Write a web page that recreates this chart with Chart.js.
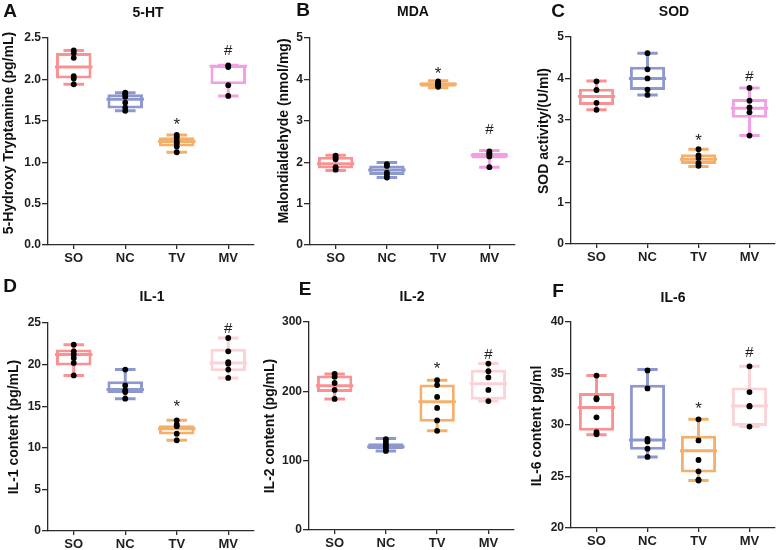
<!DOCTYPE html>
<html>
<head>
<meta charset="utf-8">
<script src="https://cdn.jsdelivr.net/npm/chart.js@4.4.0/dist/chart.umd.min.js"></script>
<style>
  body { margin: 0; background: #fff; }
  #wrap { position: relative; width: 779px; height: 550px; overflow: hidden; }
  canvas { position: absolute; }
</style>
</head>
<body>
<div id="wrap">
  <canvas id="cA" width="260" height="275" style="left:0px;top:0px"></canvas>
  <canvas id="cB" width="260" height="275" style="left:260px;top:0px"></canvas>
  <canvas id="cC" width="259" height="275" style="left:520px;top:0px"></canvas>
  <canvas id="cD" width="260" height="275" style="left:0px;top:275px"></canvas>
  <canvas id="cE" width="260" height="275" style="left:260px;top:275px"></canvas>
  <canvas id="cF" width="259" height="275" style="left:520px;top:275px"></canvas>
</div>
<script>
const groups = ['SO', 'NC', 'TV', 'MV'];

// A: 5-HT (pg/mL)
const htLow  = [1.94, 1.62, 1.12, 1.80];
const htQ1   = [2.01, 1.65, 1.19, 1.94];
const htMed  = [2.15, 1.76, 1.25, 2.16];
const htQ3   = [2.32, 1.82, 1.30, 2.17];
const htHigh = [2.35, 1.84, 1.33, 2.17];
const htDots = [[2.35, 2.32, 2.26, 2.04, 2.01, 1.94], [1.84, 1.82, 1.79, 1.72, 1.66, 1.62],
                [1.33, 1.30, 1.26, 1.23, 1.19, 1.12], [2.17, 2.15, 1.93, 1.80]];
const htMarks = [1.50, 2.36];   // '*' over TV, '#' over MV

// B: MDA (nmol/mg)
const mdaLow  = [1.80, 1.63, 3.80, 1.88];
const mdaQ1   = [1.85, 1.69, 3.82, 2.09];
const mdaMed  = [1.96, 1.81, 3.88, 2.17];
const mdaQ3   = [2.13, 1.92, 3.93, 2.23];
const mdaHigh = [2.17, 1.99, 3.97, 2.28];
const mdaDots = [[2.16, 2.12, 2.07, 1.88, 1.82], [1.95, 1.91, 1.75, 1.69, 1.63],
                 [3.95, 3.91, 3.88, 3.85, 3.82], [2.26, 2.22, 2.18, 2.14, 1.88]];
const mdaMarks = [4.25, 2.82];

// C: SOD (U/ml)
const sodLow  = [3.24, 3.60, 1.87, 2.62];
const sodQ1   = [3.36, 3.72, 1.93, 3.05];
const sodMed  = [3.56, 4.00, 2.05, 3.28];
const sodQ3   = [3.75, 4.28, 2.17, 3.50];
const sodHigh = [3.94, 4.61, 2.29, 3.77];
const sodDots = [[3.93, 3.72, 3.41, 3.24], [4.61, 4.22, 4.00, 3.73, 3.60],
                 [2.29, 2.14, 2.08, 1.95, 1.89], [3.77, 3.46, 3.30, 3.18, 2.62]];
const sodMarks = [2.59, 4.06];

// D: IL-1 (pg/mL)
const il1Low  = [18.7, 15.9, 10.9, 18.4];
const il1Q1   = [19.9, 16.6, 11.6, 19.2];
const il1Med  = [21.2, 17.0, 12.3, 20.2];
const il1Q3   = [21.8, 18.0, 12.7, 21.9];
const il1High = [22.4, 19.4, 13.3, 23.2];
const il1Dots = [[22.4, 21.6, 21.2, 20.8, 20.2, 18.7], [19.4, 17.5, 16.9, 16.7, 15.9],
                 [13.3, 12.8, 12.6, 11.7, 10.9], [23.2, 21.6, 20.3, 20.1, 19.4, 18.4]];
const il1Marks = [15.4, 24.5];

// E: IL-2 (pg/mL)
const il2Low  = [189, 114, 143, 186];
const il2Q1   = [199, 117, 156, 188];
const il2Med  = [208, 120, 185, 211];
const il2Q3   = [223, 125, 210, 231];
const il2High = [225, 132, 216, 240];
const il2Dots = [[225, 221, 212, 202, 189], [131, 127, 123, 120, 117, 114],
                 [216, 209, 192, 176, 158, 143], [240, 229, 220, 202, 186]];
const il2Marks = [238, 255];

// F: IL-6 (pg/ml)
const il6Low  = [29.05, 26.9, 24.6, 29.85];
const il6Q1   = [29.45, 27.6, 25.4, 29.9];
const il6Med  = [31.7, 28.55, 27.5, 31.85];
const il6Q3   = [33.1, 33.9, 28.95, 33.65];
const il6High = [34.8, 35.4, 30.55, 35.7];
const il6Dots = [[34.8, 32.6, 32.5, 30.75, 29.3, 29.1], [35.3, 33.55, 28.65, 28.4, 27.7, 26.9],
                 [30.55, 28.5, 26.6, 25.5, 24.7, 24.6], [35.7, 33.2, 31.85, 31.8, 29.85]];
const il6Marks = [32.0, 37.1];

const colorsTop = ['#F99393', '#8E98D0', '#F4B06A', '#F2A0E4'];
const colorsBottom = ['#F99393', '#8E98D0', '#F4B06A', '#FBD2D6'];

const FONT = '"Liberation Sans", Arial, sans-serif';
const INK = '#1e1e1e';
Chart.defaults.font.family = FONT;
Chart.defaults.color = INK;

function boxPlugin(low, med, high, marks, colors) {
  return {
    id: 'boxPlot',
    beforeDatasetsDraw(chart) {
      const { ctx, scales: { x, y } } = chart;
      const step = x.getPixelForValue(1) - x.getPixelForValue(0);
      const cw = step * 0.2;
      ctx.save();
      ctx.lineWidth = 3;
      low.forEach((lo, i) => {
        const cx = x.getPixelForValue(i);
        const yl = y.getPixelForValue(lo), yh = y.getPixelForValue(high[i]);
        ctx.strokeStyle = colors[i];
        ctx.beginPath();
        ctx.moveTo(cx, yl); ctx.lineTo(cx, yh);
        ctx.moveTo(cx - cw, yl); ctx.lineTo(cx + cw, yl);
        ctx.moveTo(cx - cw, yh); ctx.lineTo(cx + cw, yh);
        ctx.stroke();
      });
      ctx.restore();
    },
    afterDatasetDraw(chart, args) {
      if (args.index !== 0) return;
      const { ctx, scales: { y } } = chart;
      ctx.save();
      ctx.lineWidth = 3;
      args.meta.data.forEach((bar, i) => {
        const p = bar.getProps(['x', 'width'], true);
        const ym = y.getPixelForValue(med[i]);
        ctx.strokeStyle = colors[i];
        ctx.beginPath();
        ctx.moveTo(p.x - p.width / 2 - 1, ym);
        ctx.lineTo(p.x + p.width / 2 + 1, ym);
        ctx.stroke();
      });
      ctx.restore();
    },
    afterDatasetsDraw(chart) {
      const { ctx, scales: { x, y } } = chart;
      ctx.save();
      ctx.fillStyle = INK;
      ctx.textAlign = 'center';
      ctx.textBaseline = 'alphabetic';
      ctx.font = '17px ' + FONT;
      ctx.fillText('*', x.getPixelForValue(2), y.getPixelForValue(marks[0]) + 9.5);
      ctx.font = '15px ' + FONT;
      ctx.fillText('#', x.getPixelForValue(3), y.getPixelForValue(marks[1]) + 5.5);
      ctx.restore();
    }
  };
}

function textPlugin(t) {
  return {
    id: 'panelText',
    afterDraw(chart) {
      const ctx = chart.ctx;
      ctx.save();
      ctx.fillStyle = '#111';
      ctx.textAlign = 'center';
      ctx.textBaseline = 'middle';
      ctx.font = 'bold 19px ' + FONT;
      ctx.fillText(t.letter, t.lx, t.ly);
      ctx.font = 'bold 14px ' + FONT;
      ctx.fillText(t.title, t.tx, t.ty);
      ctx.translate(t.yx, t.yy);
      ctx.rotate(-Math.PI / 2);
      ctx.font = 'bold 14px ' + FONT;
      ctx.fillText(t.ylabel, 0, 0);
      ctx.restore();
    }
  };
}

function makePanel(id, d, axis, lay, text) {
  const dots = [];
  d.dots.forEach((vals, i) => vals.forEach(v => dots.push({ x: groups[i], y: v })));
  new Chart(document.getElementById(id), {
    type: 'bar',
    data: {
      labels: groups,
      datasets: [{
        data: d.q1.map((q, i) => [q, d.q3[i]]),
        backgroundColor: '#fff',
        borderColor: d.colors,
        borderWidth: 3,
        borderSkipped: false,
        categoryPercentage: 1,
        barPercentage: 0.69,
        order: 2
      }, {
        type: 'line',
        data: dots,
        showLine: false,
        pointRadius: 2.9,
        pointBackgroundColor: '#000',
        pointBorderWidth: 0,
        order: 1
      }]
    },
    options: {
      responsive: false,
      animation: false,
      layout: { padding: { left: 0, top: lay.top, right: lay.right, bottom: 0 } },
      plugins: { legend: { display: false }, tooltip: { enabled: false } },
      scales: {
        x: {
          type: 'category',
          offset: true,
          afterFit(s) { s.height = lay.xh; },
          grid: { display: true, offset: false, drawOnChartArea: false, drawTicks: true, tickLength: 4, color: '#2a2a2a', lineWidth: 1.3 },
          border: { display: true, color: '#2a2a2a', width: 1.3 },
          ticks: { font: { size: 13, weight: 'bold' }, padding: 2, color: INK, maxRotation: 0 }
        },
        y: {
          min: axis.min, max: axis.max,
          afterFit(s) { s.width = lay.yw; },
          grid: { display: true, drawOnChartArea: false, drawTicks: true, tickLength: 6, color: '#2a2a2a', lineWidth: 1.3 },
          border: { display: true, color: '#2a2a2a', width: 1.3 },
          ticks: {
            stepSize: axis.step, padding: 1, color: INK,
            font: { size: 12, weight: 'bold' },
            callback: v => v.toFixed(axis.dec)
          }
        }
      }
    },
    plugins: [boxPlugin(d.low, d.med, d.high, d.marks, d.colors), textPlugin(text)]
  });
}

makePanel('cA',
  { low: htLow, q1: htQ1, med: htMed, q3: htQ3, high: htHigh, dots: htDots, marks: htMarks, colors: colorsTop },
  { min: 0, max: 2.5, step: 0.5, dec: 1 },
  { top: 38, right: 6, yw: 48, xh: 30 },
  { letter: 'A', lx: 10, ly: 12, title: '5-HT', tx: 148, ty: 13, ylabel: '5-Hydroxy Tryptamine (pg/mL)', yx: 9, yy: 133 });

makePanel('cB',
  { low: mdaLow, q1: mdaQ1, med: mdaMed, q3: mdaQ3, high: mdaHigh, dots: mdaDots, marks: mdaMarks, colors: colorsTop },
  { min: 0, max: 5, step: 1, dec: 0 },
  { top: 38, right: 5, yw: 50, xh: 30 },
  { letter: 'B', lx: 43, ly: 11, title: 'MDA', tx: 153, ty: 12, ylabel: 'Malondialdehyde (nmol/mg)', yx: 24, yy: 131 });

makePanel('cC',
  { low: sodLow, q1: sodQ1, med: sodMed, q3: sodQ3, high: sodHigh, dots: sodDots, marks: sodMarks, colors: colorsTop },
  { min: 0, max: 5, step: 1, dec: 0 },
  { top: 37, right: 4, yw: 51, xh: 31 },
  { letter: 'C', lx: 38, ly: 12, title: 'SOD', tx: 154, ty: 12, ylabel: 'SOD activity/(U/ml)', yx: 24, yy: 131 });

makePanel('cD',
  { low: il1Low, q1: il1Q1, med: il1Med, q3: il1Q3, high: il1High, dots: il1Dots, marks: il1Marks, colors: colorsBottom },
  { min: 0, max: 25, step: 5, dec: 0 },
  { top: 48, right: 6, yw: 48, xh: 19 },
  { letter: 'D', lx: 10, ly: 12, title: 'IL-1', tx: 152, ty: 22, ylabel: 'IL-1 content (pg/mL)', yx: 14, yy: 152 });

makePanel('cE',
  { low: il2Low, q1: il2Q1, med: il2Med, q3: il2Q3, high: il2High, dots: il2Dots, marks: il2Marks, colors: colorsBottom },
  { min: 0, max: 300, step: 100, dec: 0 },
  { top: 47, right: 6, yw: 49, xh: 20 },
  { letter: 'E', lx: 45, ly: 15, title: 'IL-2', tx: 152, ty: 22, ylabel: 'IL-2 content (pg/mL)', yx: 10, yy: 151 });

makePanel('cF',
  { low: il6Low, q1: il6Q1, med: il6Med, q3: il6Q3, high: il6High, dots: il6Dots, marks: il6Marks, colors: colorsBottom },
  { min: 20, max: 40, step: 5, dec: 0 },
  { top: 47, right: 4, yw: 51, xh: 22 },
  { letter: 'F', lx: 38, ly: 17, title: 'IL-6', tx: 153, ty: 23, ylabel: 'IL-6 content pg/ml', yx: 17, yy: 151 });
</script>
</body>
</html>
